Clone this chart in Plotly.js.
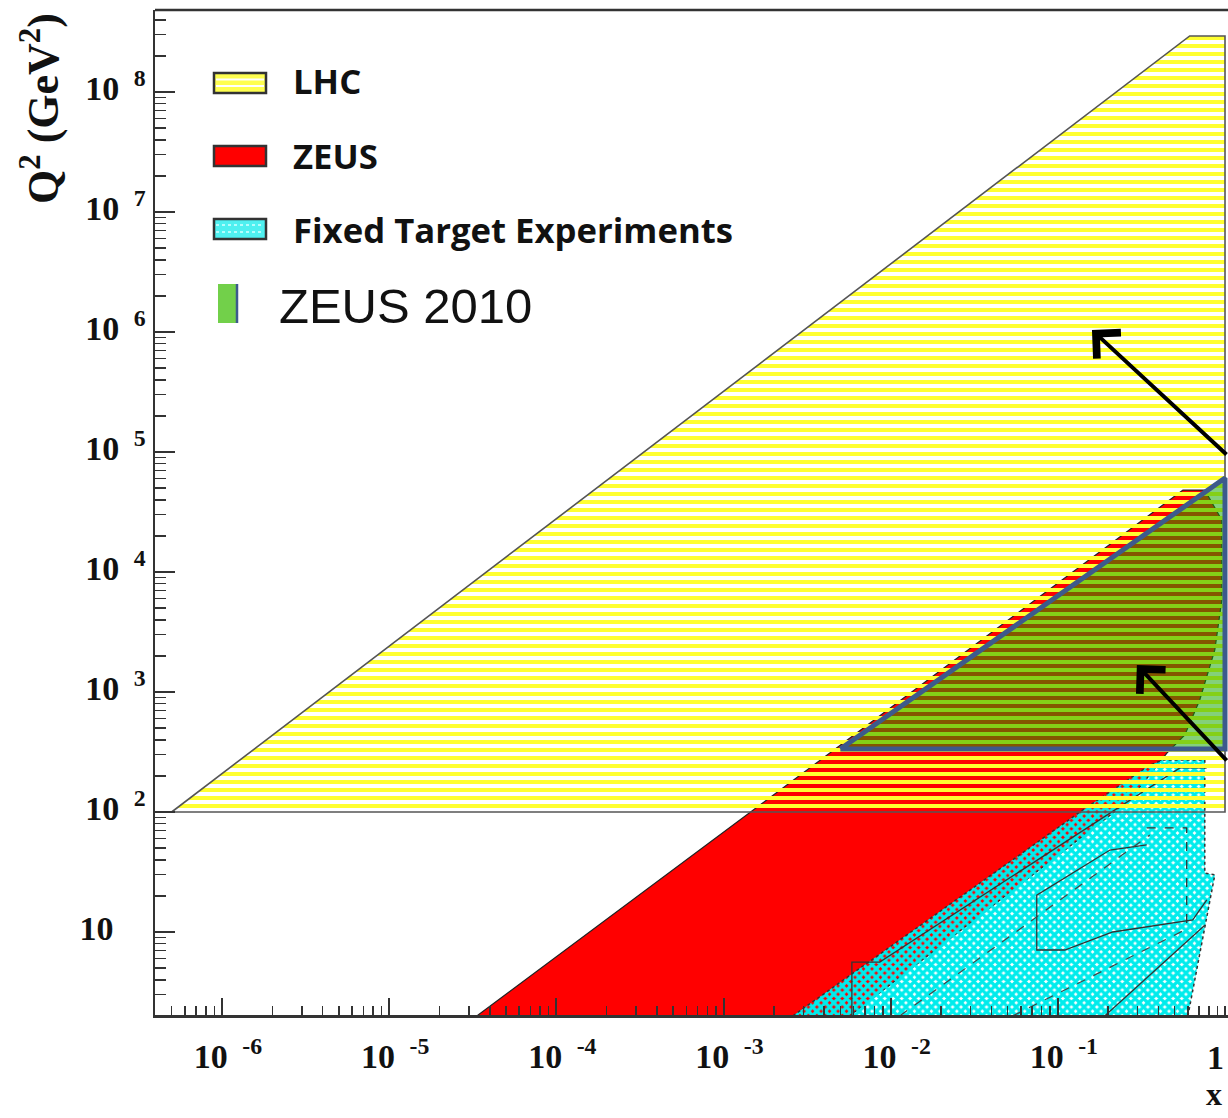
<!DOCTYPE html>
<html>
<head>
<meta charset="utf-8">
<script src="https://cdn.plot.ly/plotly-3.0.1.min.js"></script>
<style>html,body{margin:0;padding:0;background:#fff;}#chart{width:1228px;height:1118px;}</style>
</head>
<body>
<div id="chart"></div>
<script>
// ---- Data (x = Bjorken x, Q2 in GeV^2) ----
const lhcX  = [5.0e-7, 0.615, 1.0, 1.0, 5.0e-7];
const lhcQ2 = [100, 2.93e8, 2.93e8, 100, 100];

const zeusX  = [3.35e-5, 0.56, 0.757, 0.957, 0.957, 0.869, 0.706, 0.575, 0.449, 0.27, 5.7e-3, 3.35e-5];
const zeusQ2 = [2, 4.82e4, 4.82e4, 2.71e4, 5840, 2240, 858, 438, 310, 126, 2, 2];

const ftX  = [2.6e-3, 0.1355, 0.355, 0.425, 0.757, 0.757, 0.869, 0.6, 2.6e-3];
const ftQ2 = [2, 100, 246, 271, 271, 31, 29.9, 2, 2];

const ftLineAX = [5.86e-3, 5.86e-3, 8.6e-3, 0.537, 0.778];
const ftLineAQ2 = [2, 5.62, 5.62, 233, 233];
const ftLineBX = [0.34, 0.205, 0.0748, 0.0748, 0.110, 0.213, 0.641, 0.778];
const ftLineBQ2 = [53.1, 48.2, 20.3, 7.08, 7.08, 10, 12.6, 18.5];
const ftLineCX = [0.34, 0.59, 0.59];
const ftLineCQ2 = [73.6, 73.6, 11.4];
const ftLineDX = [0.191, 0.757];
const ftLineDQ2 = [2, 11.4];
const ftLineEX = [0.0538, 0.575];
const ftLineEQ2 = [2, 10.4];
const ftLineFX = [0.01135, 0.355];
const ftLineFQ2 = [2, 64.3];

const zeus2010X  = [5.0e-3, 1.0, 1.0, 5.0e-3];
const zeus2010Q2 = [335, 6.07e4, 335, 335];

const arrowHeadX  = [0.16, 0.297];
const arrowHeadQ2 = [1.04e6, 1679];

const legendLabels = ['LHC', 'ZEUS', 'Fixed Target Experiments', 'ZEUS 2010'];

const NB = '\u00a0';
const xTickVals = [1e-6, 1e-5, 1e-4, 1e-3, 1e-2, 1e-1];
const xTickText = ['10' + NB + '<sup>' + NB + '-6</sup>', '10' + NB + '<sup>' + NB + '-5</sup>',
                   '10' + NB + '<sup>' + NB + '-4</sup>', '10' + NB + '<sup>' + NB + '-3</sup>',
                   '10' + NB + '<sup>' + NB + '-2</sup>', '10' + NB + '<sup>' + NB + '-1</sup>'];
const xEdgeLabel = '1';
const yTickVals = [10, 1e2, 1e3, 1e4, 1e5, 1e6, 1e7, 1e8];
const yTickText = ['10' + NB + '<sup>' + NB + NB + NB + NB + '</sup>',
                   '10' + NB + '<sup>' + NB + '2</sup>', '10' + NB + '<sup>' + NB + '3</sup>',
                   '10' + NB + '<sup>' + NB + '4</sup>', '10' + NB + '<sup>' + NB + '5</sup>',
                   '10' + NB + '<sup>' + NB + '6</sup>', '10' + NB + '<sup>' + NB + '7</sup>',
                   '10' + NB + '<sup>' + NB + '8</sup>'];

// ---- helpers for layout placement (pixels -> paper) ----
const ML = 155, MT = 10, PW = 1073, PH = 1005;
const fx = px => (px - ML) / PW;
const fy = py => (MT + PH - py) / PH;

const traces = [
  { x: zeusX, y: zeusQ2, mode: 'lines', fill: 'toself', fillcolor: '#ff0000',
    line: { color: '#222', width: 1.2 }, hoverinfo: 'skip' },
  { x: ftX, y: ftQ2, mode: 'lines', fill: 'toself', fillcolor: 'rgba(0,0,0,0)',
    fillpattern: { shape: 'x', fgcolor: '#00ecec', bgcolor: 'rgba(0,0,0,0)', size: 6, solidity: 0.8 },
    line: { color: '#333', width: 1.5, dash: 'dot' }, hoverinfo: 'skip' },
  { x: ftLineAX, y: ftLineAQ2, mode: 'lines', line: { color: '#333', width: 1.3 }, hoverinfo: 'skip' },
  { x: ftLineBX, y: ftLineBQ2, mode: 'lines', line: { color: '#333', width: 1.3 }, hoverinfo: 'skip' },
  { x: ftLineCX, y: ftLineCQ2, mode: 'lines', line: { color: '#333', width: 1.3, dash: 'dash' }, hoverinfo: 'skip' },
  { x: ftLineDX, y: ftLineDQ2, mode: 'lines', line: { color: '#333', width: 1.3 }, hoverinfo: 'skip' },
  { x: ftLineEX, y: ftLineEQ2, mode: 'lines', line: { color: '#444', width: 1.2, dash: 'dash' }, hoverinfo: 'skip' },
  { x: ftLineFX, y: ftLineFQ2, mode: 'lines', line: { color: '#444', width: 1.2, dash: 'dash' }, hoverinfo: 'skip' },
  { x: lhcX, y: lhcQ2, mode: 'lines', fill: 'toself', fillcolor: 'rgba(0,0,0,0)',
    fillpattern: { shape: '-', fgcolor: '#ffff30', bgcolor: 'rgba(0,0,0,0)', size: 8, solidity: 0.5 },
    line: { color: '#555', width: 1.6 }, hoverinfo: 'skip' },
  { x: zeus2010X, y: zeus2010Q2, mode: 'lines', fill: 'toself', fillcolor: 'rgba(20,165,0,0.52)',
    line: { color: '#3d5a8c', width: 5 }, hoverinfo: 'skip' }
];

const tickFont = { family: 'Liberation Serif, Times New Roman, serif', size: 34, weight: 'bold', color: '#111' };

const shapes = [
  { type: 'line', xref: 'paper', yref: 'paper', x0: 0, x1: 1, y0: 1, y1: 1, line: { color: '#333', width: 2.5 } },
  // legend swatches
  { type: 'rect', xref: 'paper', yref: 'paper', x0: fx(214), x1: fx(266), y0: fy(93), y1: fy(73),
    fillcolor: '#ffff50', line: { color: '#333', width: 2.5 } },
  { type: 'line', xref: 'paper', yref: 'paper', x0: fx(216), x1: fx(264), y0: fy(79.5), y1: fy(79.5), line: { color: '#ffffff', width: 2 } },
  { type: 'line', xref: 'paper', yref: 'paper', x0: fx(216), x1: fx(264), y0: fy(86), y1: fy(86), line: { color: '#ffffff', width: 2 } },
  { type: 'rect', xref: 'paper', yref: 'paper', x0: fx(214), x1: fx(266), y0: fy(166), y1: fy(146),
    fillcolor: '#ff0000', line: { color: '#333', width: 2.5 } },
  { type: 'rect', xref: 'paper', yref: 'paper', x0: fx(214), x1: fx(266), y0: fy(239), y1: fy(219),
    fillcolor: '#4ff0f0', line: { color: '#333', width: 2.5 } },
  { type: 'line', xref: 'paper', yref: 'paper', x0: fx(216), x1: fx(264), y0: fy(225), y1: fy(225), line: { color: '#d8ffff', width: 1.5, dash: 'dot' } },
  { type: 'line', xref: 'paper', yref: 'paper', x0: fx(216), x1: fx(264), y0: fy(232), y1: fy(232), line: { color: '#d8ffff', width: 1.5, dash: 'dot' } },
  { type: 'rect', xref: 'paper', yref: 'paper', x0: fx(218), x1: fx(236), y0: fy(323), y1: fy(284),
    fillcolor: '#72d04a', line: { width: 0 } },
  { type: 'line', xref: 'paper', yref: 'paper', x0: fx(237), x1: fx(237), y0: fy(323), y1: fy(284), line: { color: '#3d5a8c', width: 2.5 } }
];

const legendFont = { family: 'Open Sans, sans-serif', size: 34.7, weight: 'bold', color: '#111' };
const annotations = [
  { xref: 'paper', yref: 'paper', x: fx(291), y: fy(81), xanchor: 'left', yanchor: 'middle', text: legendLabels[0], showarrow: false, font: legendFont },
  { xref: 'paper', yref: 'paper', x: fx(291), y: fy(155), xanchor: 'left', yanchor: 'middle', text: legendLabels[1], showarrow: false, font: legendFont },
  { xref: 'paper', yref: 'paper', x: fx(291), y: fy(229), xanchor: 'left', yanchor: 'middle', text: legendLabels[2], showarrow: false, font: legendFont },
  { xref: 'paper', yref: 'paper', x: fx(277), y: fy(306), xanchor: 'left', yanchor: 'middle', text: legendLabels[3], showarrow: false,
    font: { family: 'Liberation Sans, Arial, sans-serif', size: 49, color: '#111' } },
  // axis titles and edge tick label
  { xref: 'paper', yref: 'paper', x: fx(40), y: fy(109), xanchor: 'center', yanchor: 'middle', textangle: -90,
    text: 'Q<sup>2</sup>' + NB + '(GeV<sup>2</sup>)', showarrow: false,
    font: { family: 'Liberation Serif, Times New Roman, serif', size: 44, weight: 'bold', color: '#111' } },
  { xref: 'paper', yref: 'paper', x: fx(1224), y: fy(1094), xanchor: 'right', yanchor: 'middle',
    text: 'x', showarrow: false, font: { family: 'Liberation Serif, Times New Roman, serif', size: 32, weight: 'bold', color: '#111' } },
  { xref: 'paper', yref: 'paper', x: fx(1226), y: fy(1057), xanchor: 'right', yanchor: 'middle',
    text: xEdgeLabel, showarrow: false, font: tickFont },
  // arrows
  { xref: 'x', yref: 'y', x: Math.log10(arrowHeadX[0]), y: Math.log10(arrowHeadQ2[0]), ax: 139, ay: 126, text: '',
    showarrow: true, arrowhead: 4, arrowsize: 1.7, arrowwidth: 4, arrowcolor: '#000', standoff: 0 },
  { xref: 'x', yref: 'y', x: Math.log10(arrowHeadX[1]), y: Math.log10(arrowHeadQ2[1]), ax: 94, ay: 97, text: '',
    showarrow: true, arrowhead: 4, arrowsize: 1.7, arrowwidth: 4, arrowcolor: '#000', standoff: 0 }
];

const layout = {
  width: 1228, height: 1118,
  margin: { l: ML, r: 0, t: MT, b: 1118 - MT - PH, pad: 0 },
  paper_bgcolor: '#ffffff', plot_bgcolor: '#ffffff',
  showlegend: false,
  xaxis: {
    type: 'log', range: [-6.4007, 0.0179], autorange: false,
    tickmode: 'array', tickvals: xTickVals, ticktext: xTickText,
    ticks: 'inside', ticklen: 17, tickwidth: 2, tickcolor: '#333',
    showline: true, linewidth: 2.5, linecolor: '#333', mirror: false,
    showgrid: false, zeroline: false, tickfont: tickFont, ticklabelshift: 6, ticklabelstandoff: 10,
    minor: { dtick: 'D1', ticks: 'inside', ticklen: 9, tickwidth: 1.5, tickcolor: '#333', showgrid: false }
  },
  yaxis: {
    type: 'log', range: [0.3083, 8.6833], autorange: false,
    tickmode: 'array', tickvals: yTickVals, ticktext: yTickText,
    ticks: 'inside', ticklen: 20, tickwidth: 2, tickcolor: '#333',
    showline: true, linewidth: 2.5, linecolor: '#333',
    showgrid: false, zeroline: false, tickfont: tickFont, ticklabelshift: -4,
    minor: { dtick: 'D1', ticks: 'inside', ticklen: 11, tickwidth: 1.5, tickcolor: '#333', showgrid: false }
  },
  shapes: shapes,
  annotations: annotations
};

Plotly.newPlot('chart', traces, layout, { staticPlot: true, displayModeBar: false });
</script>
</body>
</html>
